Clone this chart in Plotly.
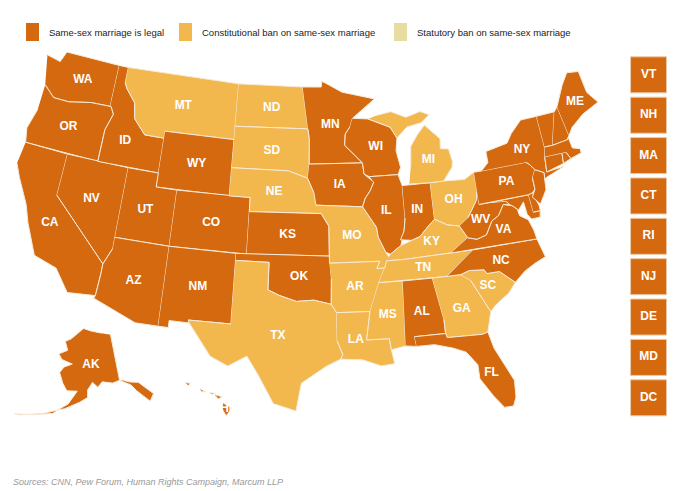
import math
import plotly.graph_objects as go

W, H = 675, 491
legal = ["AL","AK","AZ","CA","CO","CT","DE","FL","HI","ID","IL","IN","IA","KS","ME","MD","MA","MN","NV","NH","NJ","NM","NY","NC","OK","OR","PA","RI","UT","VT","VA","WA","WV","WI","WY","DC"]
constitutional = ["MT","ND","SD","NE","TX","MO","AR","LA","MS","KY","TN","GA","SC","MI","OH"]
statutory = []
small_states = ["VT","NH","MA","CT","RI","NJ","DE","MD","DC"]
statuses = ["Same-sex marriage is legal","Constitutional ban on same-sex marriage","Statutory ban on same-sex marriage"]
colors = ["#D4690F","#F2B84E","#E8DDA0"]

shapes_ll = {
"WA":[(-124.7,48.4),(-123.2,48.2),(-122.8,49),(-117.0,49),(-117.0,46.0),(-119.0,45.95),(-121.2,45.6),(-122.8,45.6),(-124.0,46.3)],
"OR":[(-124.0,46.3),(-122.8,45.6),(-121.2,45.6),(-119.0,45.95),(-116.9,46.0),(-116.5,45.5),(-117.0,44.3),(-117.0,42.0),(-124.2,42.0),(-124.5,43.0),(-124.0,44.5)],
"CA":[(-124.2,42.0),(-120.0,42.0),(-120.0,39.0),(-114.6,35.0),(-114.6,34.3),(-114.7,32.7),(-117.1,32.5),(-118.5,34.0),(-120.6,34.5),(-121.9,36.6),(-122.5,37.8),(-123.8,39.5),(-124.4,40.4)],
"NV":[(-120.0,42.0),(-114.0,42.0),(-114.0,36.2),(-114.6,35.0),(-120.0,39.0)],
"ID":[(-117.0,49),(-116.0,49),(-116.0,47.9),(-115.7,47.5),(-114.6,46.6),(-114.3,45.5),(-113.0,44.5),(-111.05,44.5),(-111.05,42.0),(-117.0,42.0),(-117.0,44.3),(-116.5,45.5),(-116.9,46.0),(-117.0,46.0)],
"MT":[(-116.0,49),(-104.05,49),(-104.05,45.0),(-111.05,45.0),(-111.05,44.5),(-113.0,44.5),(-114.3,45.5),(-114.6,46.6),(-115.7,47.5),(-116.0,47.9)],
"WY":[(-111.05,45),(-104.05,45),(-104.05,41),(-111.05,41)],
"UT":[(-114.0,42),(-111.05,42),(-111.05,41),(-109.05,41),(-109.05,37),(-114.0,37)],
"CO":[(-109.05,41),(-102.05,41),(-102.05,37),(-109.05,37)],
"AZ":[(-114.0,37),(-109.05,37),(-109.05,31.3),(-111.0,31.3),(-114.8,32.5),(-114.7,32.7),(-114.6,34.3),(-114.6,35.0),(-114.0,36.2)],
"NM":[(-109.05,37),(-103.0,37),(-103.0,32.0),(-106.6,32.0),(-106.5,31.8),(-108.2,31.8),(-108.2,31.3),(-109.05,31.3)],
"ND":[(-104.05,49),(-97.2,49),(-96.6,46.0),(-104.05,45.95)],
"SD":[(-104.05,45.95),(-96.6,46.0),(-96.45,45.3),(-96.45,43.5),(-96.6,42.5),(-98.5,43.0),(-104.05,43.0)],
"NE":[(-104.05,43.0),(-98.5,43.0),(-96.6,42.5),(-96.0,41.5),(-95.3,40.0),(-102.05,40.0),(-102.05,41.0),(-104.05,41.0)],
"KS":[(-102.05,40.0),(-95.3,40.0),(-94.6,39.1),(-94.6,37.0),(-102.05,37.0)],
"OK":[(-103.0,37.0),(-94.6,37.0),(-94.45,35.4),(-94.5,33.6),(-96.0,33.9),(-97.5,33.8),(-99.0,34.2),(-100.0,34.56),(-100.0,36.5),(-103.0,36.5)],
"TX":[(-103.0,36.5),(-100.0,36.5),(-100.0,34.56),(-99.0,34.2),(-97.5,33.8),(-96.0,33.9),(-94.5,33.6),(-94.05,33.0),(-94.05,31.0),(-93.6,30.0),(-93.8,29.7),(-95.0,29.2),(-97.0,28.0),(-97.4,26.0),(-99.2,26.5),(-100.5,28.5),(-101.5,29.8),(-103.0,29.0),(-104.5,29.6),(-106.5,31.8),(-106.6,32.0),(-103.0,32.0)],
"MN":[(-97.2,49),(-95.2,49),(-95.15,49.4),(-94.8,49.3),(-93.0,48.6),(-89.6,48.0),(-92.0,46.7),(-92.3,46.1),(-92.8,45.6),(-92.9,44.8),(-91.2,43.5),(-96.45,43.5),(-96.45,45.3),(-96.6,46.0)],
"IA":[(-96.45,43.5),(-91.2,43.5),(-91.1,42.7),(-90.2,42.1),(-90.6,41.5),(-91.1,41.0),(-91.4,40.4),(-95.8,40.6),(-96.0,41.5),(-96.6,42.5)],
"MO":[(-95.8,40.6),(-91.4,40.4),(-90.2,38.9),(-90.1,38.2),(-89.5,37.1),(-89.1,36.5),(-89.7,36.0),(-90.4,36.0),(-90.1,36.5),(-94.6,36.5),(-94.6,39.1),(-95.3,40.0)],
"AR":[(-94.6,36.5),(-90.1,36.5),(-90.4,36.0),(-89.7,36.0),(-90.3,35.0),(-91.2,33.0),(-94.05,33.0),(-94.5,33.6),(-94.45,35.4)],
"LA":[(-94.05,33.0),(-91.2,33.0),(-91.6,31.0),(-89.7,31.0),(-89.6,30.2),(-89.4,29.2),(-90.5,29.1),(-92.0,29.6),(-93.8,29.7),(-93.6,30.0),(-94.05,31.0)],
"WI":[(-92.0,46.7),(-90.4,46.6),(-88.2,45.9),(-87.6,45.1),(-87.8,44.2),(-87.5,43.0),(-87.8,42.5),(-90.6,42.5),(-91.1,42.7),(-91.2,43.5),(-92.9,44.8),(-92.8,45.6),(-92.3,46.1)],
"IL":[(-90.6,42.5),(-87.8,42.5),(-87.5,41.7),(-87.5,39.4),(-87.7,38.5),(-88.1,37.5),(-89.1,36.95),(-89.5,37.1),(-90.1,38.2),(-90.2,38.9),(-91.4,40.4),(-91.1,41.0),(-90.6,41.5),(-90.2,42.1)],
"IN":[(-87.5,41.7),(-84.8,41.7),(-84.8,39.1),(-85.4,38.7),(-86.3,38.0),(-87.1,37.8),(-88.1,37.9),(-87.7,38.5),(-87.5,39.4)],
"OH":[(-84.8,41.7),(-83.5,41.7),(-81.5,41.6),(-80.5,42.0),(-80.5,40.6),(-80.7,40.0),(-81.7,38.9),(-82.6,38.4),(-83.7,38.6),(-84.8,39.1)],
"MI":[(-86.8,41.76),(-84.8,41.7),(-83.5,41.7),(-82.5,42.6),(-82.4,43.0),(-82.6,43.9),(-83.4,44.0),(-83.3,44.7),(-84.7,45.8),(-85.5,45.2),(-86.3,44.4),(-86.5,43.0),None,
       (-90.4,46.6),(-88.2,45.9),(-87.6,45.1),(-86.5,45.8),(-85.0,46.0),(-84.1,46.5),(-85.0,46.8),(-86.5,46.5),(-88.0,47.0),(-89.6,46.8)],
"KY":[(-89.5,36.5),(-88.05,36.5),(-83.7,36.6),(-82.0,37.5),(-82.6,38.4),(-83.7,38.6),(-84.8,39.1),(-85.4,38.7),(-86.3,38.0),(-87.1,37.8),(-88.1,37.5),(-89.1,36.95)],
"TN":[(-90.3,35.0),(-84.3,35.0),(-81.7,36.6),(-83.7,36.6),(-88.05,36.5),(-89.5,36.5),(-89.7,36.0)],
"MS":[(-91.2,33.0),(-91.6,31.0),(-89.7,31.0),(-89.6,30.2),(-88.4,30.4),(-88.2,35.0),(-90.3,35.0)],
"AL":[(-88.2,35.0),(-85.6,35.0),(-85.0,32.0),(-85.0,31.0),(-87.6,31.0),(-87.5,30.3),(-88.4,30.4)],
"GA":[(-85.6,35.0),(-83.1,35.0),(-82.3,34.5),(-81.0,32.1),(-81.5,30.7),(-82.0,30.6),(-84.9,30.7),(-85.0,31.0),(-85.0,32.0)],
"FL":[(-87.6,31.0),(-85.0,31.0),(-84.9,30.7),(-82.0,30.6),(-81.5,30.7),(-81.2,29.5),(-80.0,27.0),(-80.1,25.8),(-80.4,25.2),(-81.1,25.2),(-81.8,26.1),(-82.7,27.5),(-82.7,28.5),(-83.5,29.5),(-84.5,29.9),(-86.0,30.3),(-87.5,30.3)],
"SC":[(-83.1,35.0),(-82.3,35.2),(-81.0,35.1),(-80.8,34.8),(-79.7,34.8),(-78.5,33.85),(-79.2,33.2),(-80.5,32.5),(-81.0,32.1),(-82.3,34.5)],
"NC":[(-84.3,35.0),(-83.1,35.0),(-82.3,35.2),(-81.0,35.1),(-80.8,34.8),(-79.7,34.8),(-78.5,33.85),(-77.5,34.5),(-76.5,34.9),(-75.5,35.2),(-75.9,36.55),(-81.7,36.6)],
"VA":[(-83.7,36.6),(-75.9,36.55),(-76.0,37.2),(-76.3,38.0),(-77.0,38.4),(-77.1,38.9),(-77.5,39.2),(-78.3,39.4),(-78.9,38.7),(-79.6,38.4),(-80.3,37.5),(-81.2,37.3),(-82.0,37.5)],
"WV":[(-82.6,38.4),(-82.0,37.5),(-81.2,37.3),(-80.3,37.5),(-79.6,38.4),(-78.9,38.7),(-78.3,39.4),(-77.7,39.3),(-78.0,39.6),(-79.5,39.7),(-80.5,39.7),(-80.5,40.6),(-80.7,40.0),(-81.7,38.9)],
"MD":[(-79.5,39.7),(-75.8,39.72),(-75.7,38.45),(-75.05,38.45),(-75.2,38.0),(-76.0,38.0),(-76.3,38.4),(-76.4,39.3),(-77.0,38.8),(-77.1,38.9),(-77.5,39.2),(-77.7,39.3),(-78.0,39.6)],
"DE":[(-75.8,39.72),(-75.4,39.8),(-75.05,38.8),(-75.05,38.45),(-75.7,38.45)],
"PA":[(-80.5,42.0),(-79.76,42.0),(-75.4,42.0),(-75.1,41.8),(-74.7,41.35),(-75.1,40.8),(-75.1,40.0),(-75.4,39.8),(-75.8,39.72),(-80.5,39.7)],
"NJ":[(-74.7,41.35),(-73.9,41.0),(-74.0,40.5),(-74.1,39.8),(-74.9,38.9),(-75.5,39.5),(-75.1,40.0),(-75.1,40.8)],
"NY":[(-79.76,42.0),(-79.0,42.5),(-79.0,43.3),(-76.8,43.6),(-76.2,44.2),(-75.0,45.0),(-73.35,45.0),(-73.3,42.75),(-73.5,42.05),(-73.65,41.0),(-72.0,41.1),(-71.9,41.1),(-73.9,40.6),(-74.0,40.5),(-73.9,41.0),(-74.7,41.35),(-75.1,41.8),(-75.4,42.0)],
"VT":[(-73.35,45.0),(-71.5,45.0),(-72.5,42.73),(-73.3,42.75)],
"NH":[(-71.5,45.0),(-71.1,45.3),(-70.7,43.1),(-71.0,42.85),(-72.5,42.73)],
"ME":[(-71.1,45.3),(-70.0,46.7),(-69.2,47.45),(-68.0,47.3),(-67.8,45.7),(-67.0,44.8),(-68.8,44.3),(-70.2,43.6),(-70.7,43.1)],
"MA":[(-73.5,42.05),(-71.8,42.0),(-71.4,42.0),(-71.1,41.5),(-70.0,41.7),(-70.0,42.0),(-70.7,42.2),(-70.8,42.9),(-71.0,42.85),(-72.5,42.73),(-73.3,42.75)],
"CT":[(-73.5,42.05),(-73.65,41.0),(-71.9,41.3),(-71.8,42.0)],
"RI":[(-71.8,42.0),(-71.9,41.3),(-71.1,41.5),(-71.4,42.0)],
"AK":[(-141,69.6),(-141,60.3),(-144,60),(-148,60.5),(-150,59.5),(-152,60.5),(-154,59),(-154,57.5),(-157,56.5),(-162,55),(-164.5,54.5),(-161,56),(-158,58.7),(-162,58.6),(-164,60),(-165,61),(-166,62),(-164.5,63.2),(-161,64),(-166,64.6),(-168,65.6),(-164,66.6),(-166,68.3),(-163,69),(-156.5,71.3),(-152,70.8),(-146,70.2),None,
       (-141,60.3),(-137,58.9),(-135.5,57.5),(-132,54.7),(-130,55.9),(-134,59),(-137,59.5),(-139,60),None,
       (-164.5,54.5),(-169,53.3),(-176,51.8),(-178,51.6),(-172,52.6),(-166,53.7)],
"HI":[(-155.9,20.2),(-155.0,19.7),(-155.6,18.95),(-156.05,19.7),None,
       (-156.7,21.0),(-156.0,20.8),(-156.4,20.6),(-156.7,20.9),None,
       (-158.3,21.6),(-157.7,21.3),(-158.1,21.3),None,
       (-159.8,22.2),(-159.3,22.1),(-159.5,21.9),None,
       (-157.3,21.2),(-156.7,21.15),(-157.0,21.05)],
}

label_pos = {
 "WA":(-120.4,47.4),"OR":(-120.6,43.9),"CA":(-120.0,37.0),"NV":(-116.8,39.3),"ID":(-114.8,43.8),
 "MT":(-109.6,47.0),"WY":(-107.5,43.0),"UT":(-111.7,39.3),"AZ":(-111.7,34.2),"CO":(-105.5,39.0),
 "NM":(-106.1,34.4),"ND":(-100.4,47.4),"SD":(-100.2,44.4),"NE":(-99.8,41.5),"KS":(-98.4,38.5),
 "OK":(-97.3,35.5),"TX":(-99.0,31.3),"MN":(-94.3,46.3),"IA":(-93.5,42.0),"MO":(-92.5,38.4),
 "AR":(-92.4,34.8),"LA":(-92.5,31.0),"WI":(-89.8,44.6),"IL":(-89.2,40.0),"MI":(-84.7,43.3),
 "IN":(-86.3,39.9),"OH":(-82.8,40.3),"KY":(-85.3,37.5),"TN":(-86.3,35.8),"MS":(-89.7,32.7),
 "AL":(-86.8,32.7),"GA":(-83.4,32.6),"FL":(-81.7,27.8),"SC":(-80.9,33.9),"NC":(-79.4,35.5),
 "VA":(-78.7,37.6),"WV":(-80.6,38.6),"PA":(-77.6,40.9),"NY":(-75.5,42.9),"ME":(-69.2,45.3),
 "AK":(-152.5,64.0),"HI":(-155.6,19.6),
}

def albers(lon, lat, lon0, lat0, p1, p2):
    r = math.radians
    n = (math.sin(r(p1)) + math.sin(r(p2))) / 2
    C = math.cos(r(p1))**2 + 2*n*math.sin(r(p1))
    rho = lambda ph: math.sqrt(C - 2*n*math.sin(r(ph))) / n
    rho0 = rho(lat0)
    th = n * r(lon - lon0)
    return rho(lat)*math.sin(th), rho0 - rho(lat)*math.cos(th)

MAIN = (-96, 37.5, 29.5, 45.5)
AKP = (-154, 50, 55, 65)
HIP = (-157, 3, 8, 18)
def prm_of(k):
    return AKP if k == "AK" else HIP if k == "HI" else MAIN

proj = {k: [None if p is None else albers(p[0], p[1], *prm_of(k)) for p in pts] for k, pts in shapes_ll.items()}
lab = {k: albers(v[0], v[1], *prm_of(k)) for k, v in label_pos.items()}

def bbox(keys):
    xs = [p[0] for k in keys for p in proj[k] if p]; ys = [p[1] for k in keys for p in proj[k] if p]
    return min(xs), max(xs), min(ys), max(ys)
mains = [k for k in proj if k not in ("AK","HI")]
mx0, mx1, my0, my1 = bbox(mains)
mw, mh = mx1-mx0, my1-my0

def place(key, fx0, fx1, fy_top):
    bx0, bx1, by0, by1 = bbox([key])
    s = (fx1-fx0)*mw / (bx1-bx0)
    tx = mx0 + fx0*mw; ty = my1 - fy_top*mh
    f = lambda p: None if p is None else ((p[0]-bx0)*s + tx, (p[1]-by1)*s + ty)
    proj[key] = [f(p) for p in proj[key]]
    lab[key] = f(lab[key])
place("AK", -0.005, 0.235, 0.77)
place("HI", 0.29, 0.37, 0.92)

status_of = {s:0 for s in legal}
status_of.update({s:1 for s in constitutional})
status_of.update({s:2 for s in statutory})

fig = go.Figure()
for k, pts in proj.items():
    fig.add_trace(go.Scatter(x=[p[0] if p else None for p in pts], y=[p[1] if p else None for p in pts],
        fill="toself", fillcolor=colors[status_of[k]], mode="lines", line=dict(color="#f7ead8", width=1),
        name=k, hoverinfo="name", xaxis="x", yaxis="y"))
lk = list(lab.keys())
fnt = dict(color="white", size=12, family="Liberation Sans", weight="bold")
fig.add_trace(go.Scatter(x=[lab[k][0] for k in lk], y=[lab[k][1] for k in lk], text=lk, mode="text",
    textfont=fnt, hoverinfo="skip", xaxis="x", yaxis="y"))
fig.add_trace(go.Scatter(x=[0]*len(small_states), y=list(range(len(small_states))), mode="markers+text",
    text=small_states, textposition="middle center", textfont=fnt,
    marker=dict(symbol="square", size=36, color=[colors[status_of[s]] for s in small_states],
                line=dict(color="#e8c9a8", width=1)),
    xaxis="x2", yaxis="y2", hoverinfo="text"))

px0, px1, pyt = 9, 590, 44
sc = (px1-px0)/mw
xr0 = mx0 - px0/sc
xr1 = xr0 + W/sc
yr1 = my1 + pyt/sc
yr0 = yr1 - H/sc
fig.update_layout(
    width=W, height=H, margin=dict(l=0,r=0,t=0,b=0), paper_bgcolor="white", plot_bgcolor="rgba(0,0,0,0)",
    showlegend=False,
    xaxis=dict(domain=[0,1], range=[xr0, xr1], visible=False, fixedrange=True),
    yaxis=dict(domain=[0,1], range=[yr0, yr1], visible=False, fixedrange=True),
    xaxis2=dict(domain=[0.915,1.0], range=[-0.6,0.9], visible=False, fixedrange=True, anchor="y2"),
    yaxis2=dict(domain=[0.165,0.905], range=[len(small_states)-0.5,-0.5], visible=False, fixedrange=True, anchor="x2"),
)
legend_x = [18, 171, 386]
for i,(labt,c) in enumerate(zip(statuses, colors)):
    x0 = legend_x[i]
    fig.add_shape(type="rect", xref="paper", yref="paper", x0=x0/W, x1=(x0+13)/W,
                  y0=1-33/H, y1=1-15/H, fillcolor=c, line_width=0)
    fig.add_annotation(xref="paper", yref="paper", x=(x0+21)/W, y=1-24/H, text=labt, showarrow=False,
                       xanchor="left", yanchor="middle", font=dict(size=9.5, color="#222", family="Liberation Sans"))
fig.add_annotation(xref="paper", yref="paper", x=3/W, y=1-474/H, text="<i>Sources: CNN, Pew Forum, Human Rights Campaign, Marcum LLP</i>",
                   showarrow=False, xanchor="left", yanchor="middle", font=dict(size=9, color="#999", family="Liberation Sans"))
fig.write_html("out.html")
